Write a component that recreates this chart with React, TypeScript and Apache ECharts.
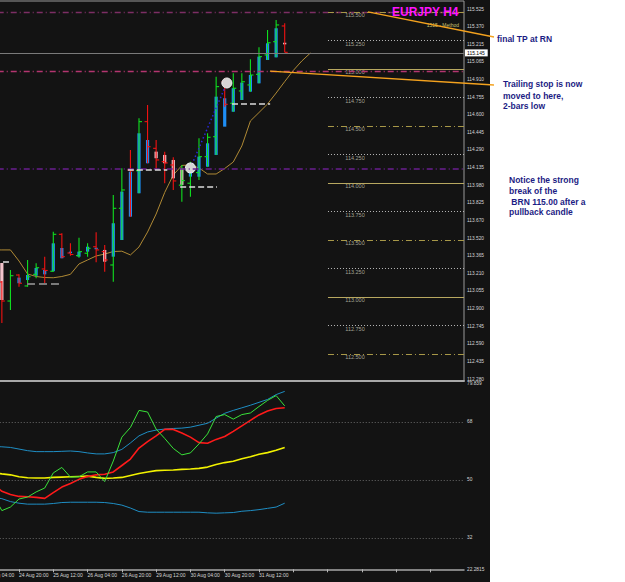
import React, { useEffect, useRef } from 'react';
import * as echarts from 'echarts';

// ---------- data ----------
// bar times, index = k + 1 (k = bar index used on the x value axis; k = -1 is the first tick only)
const barTimes = [
  '24 Aug 04:00', '24 Aug 08:00', '24 Aug 12:00', '24 Aug 16:00', '24 Aug 20:00',
  '25 Aug 00:00', '25 Aug 04:00', '25 Aug 08:00', '25 Aug 12:00', '25 Aug 16:00', '25 Aug 20:00',
  '26 Aug 00:00', '26 Aug 04:00', '26 Aug 08:00', '26 Aug 12:00', '26 Aug 16:00', '26 Aug 20:00',
  '29 Aug 00:00', '29 Aug 04:00', '29 Aug 08:00', '29 Aug 12:00', '29 Aug 16:00', '29 Aug 20:00',
  '30 Aug 00:00', '30 Aug 04:00', '30 Aug 08:00', '30 Aug 12:00', '30 Aug 16:00', '30 Aug 20:00',
  '31 Aug 00:00', '31 Aug 04:00', '31 Aug 08:00', '31 Aug 12:00', '31 Aug 16:00', '31 Aug 20:00',
  '01 Sep 00:00',
];

const barOpen = [113.300, 113.131, 112.964, 113.192, 113.096, 113.198, 113.245, 113.225, 113.549, 113.385, 113.362, 113.383, 113.440, 113.397, 113.280, 113.777, 114.113, 114.107, 114.537, 114.303, 114.186, 114.157, 113.980, 113.997, 114.090, 114.230, 114.405, 114.887, 114.698, 114.806, 114.859, 114.952, 115.122, 115.238, 115.376];
const barHigh = [113.340, 113.140, 113.236, 113.198, 113.324, 113.295, 113.353, 113.572, 113.558, 113.470, 113.519, 113.470, 113.568, 113.455, 113.894, 114.128, 114.289, 114.567, 114.683, 114.376, 114.274, 114.225, 114.157, 114.186, 114.391, 114.435, 114.931, 114.917, 114.961, 114.961, 115.084, 115.189, 115.341, 115.429, 115.400];
const barLow = [113.100, 112.771, 112.885, 113.090, 113.090, 113.163, 113.105, 113.221, 113.339, 113.362, 113.344, 113.353, 113.305, 113.221, 113.134, 113.499, 113.704, 113.909, 114.172, 114.113, 113.997, 113.938, 113.835, 113.879, 114.025, 114.142, 114.245, 114.668, 114.624, 114.727, 114.800, 114.873, 115.078, 115.101, 115.145];
const barClose = [113.131, 112.964, 113.186, 113.120, 113.177, 113.256, 113.232, 113.549, 113.353, 113.372, 113.397, 113.426, 113.412, 113.324, 113.777, 113.938, 114.107, 114.537, 114.317, 114.201, 114.175, 114.017, 114.020, 114.163, 114.230, 114.400, 114.844, 114.689, 114.830, 114.887, 114.946, 115.107, 115.229, 115.385, 115.145];
const haOpen = [113.320, 113.297, null, 113.120, 113.148, 113.186, 113.198, 113.225, 113.339, 113.384, 113.353, 113.397, 113.418, 113.412, 113.353, 113.499, 113.704, 113.909, 114.172, 114.274, 114.245, 114.201, 114.128, 114.055, 114.054, 114.142, 114.245, 114.493, 114.624, 114.727, 114.800, 114.873, 115.078, 115.101, 115.229];
const haClose = [113.250, 112.973, null, 113.169, 113.192, 113.254, 113.236, 113.470, 113.429, 113.397, 113.397, 113.440, 113.431, 113.309, 113.646, 113.923, 114.098, 114.435, 114.376, 114.216, 114.172, 114.040, 113.982, 114.160, 114.230, 114.347, 114.756, 114.742, 114.830, 114.879, 114.946, 115.107, 115.224, 115.356, 115.215];

// moving average, shifted 3 bars forward (k = 0..37)
const maValues = [113.412, 113.412, 113.412, 113.315, 113.201, 113.179, 113.170, 113.168, 113.179, 113.198, 113.289, 113.324, 113.359, 113.376, 113.398, 113.401, 113.368, 113.438, 113.569, 113.727, 113.916, 114.069, 114.153, 114.157, 114.131, 114.078, 114.078, 114.126, 114.183, 114.324, 114.543, 114.617, 114.692, 114.788, 114.888, 114.986, 115.069, 115.139];

// indicator (TDI) k = 0..34
const rsiGreen = [45.3, 40.5, 41.6, 44.1, 44.7, 46.3, 47.5, 52.2, 53.9, 50.9, 51.0, 52.5, 52.5, 49.5, 55.9, 63.3, 66.3, 71.6, 71.1, 65.8, 62.9, 59.8, 57.8, 58.4, 61.2, 64.3, 69.7, 70.3, 68.9, 70.3, 70.8, 72.8, 74.7, 76.2, 73.0];
const signalRed = [48.5, 46.5, 45.5, 44.9, 44.8, 44.6, 44.3, 46.1, 47.8, 48.9, 50.2, 51.1, 51.6, 51.8, 52.5, 54.5, 56.5, 59.9, 61.9, 63.7, 65.7, 65.7, 64.6, 63.3, 61.6, 61.4, 62.6, 63.5, 65.1, 66.8, 68.5, 70.2, 71.4, 72.2, 72.4];
const baseYellow = [52.3, 51.9, 51.6, 51.0, 50.7, 50.6, 50.6, 50.8, 50.9, 51.0, 51.1, 51.2, 50.8, 50.5, 50.6, 50.8, 51.4, 52.0, 52.5, 52.9, 53.0, 53.1, 53.3, 53.4, 53.6, 54.0, 54.8, 55.4, 55.8, 56.6, 57.2, 58.0, 58.5, 59.2, 60.1];
const bandUpper = [60.4, 60.3, 60.1, 59.6, 59.1, 58.8, 58.8, 58.8, 58.9, 59.0, 58.8, 58.4, 58.1, 58.1, 58.5, 59.5, 61.5, 63.7, 64.9, 65.5, 65.8, 66.0, 66.1, 66.4, 67.0, 67.6, 69.2, 70.7, 71.6, 72.4, 73.2, 74.1, 75.0, 76.5, 77.5];
const bandLower = [44.7, 44.2, 43.3, 42.8, 42.5, 42.5, 42.5, 42.7, 43.0, 43.1, 43.1, 43.1, 43.1, 43.0, 42.7, 42.2, 41.3, 40.2, 40.0, 40.0, 40.0, 40.0, 40.0, 40.0, 40.0, 39.8, 39.7, 39.8, 39.9, 40.3, 40.5, 40.8, 41.2, 41.6, 42.8];

// axis tick labels
const priceAxisLabels = ['112.280', '112.435', '112.590', '112.745', '112.900', '113.055', '113.210', '113.365', '113.520', '113.670', '113.825', '113.980', '114.135', '114.290', '114.445', '114.600', '114.755', '114.910', '115.065', '115.215', '115.370', '115.525'];
const indicatorLevels = [68, 50, 32];
const indicatorMin = 22.2815;
const indicatorMax = 79.839;

// round-number levels drawn on the right
const roundLevels = [115.5, 115.25, 115.0, 114.75, 114.5, 114.25, 114.0, 113.75, 113.5, 113.25, 113.0, 112.75, 112.5];
const roundLevelLabels = ['115.500', '115.250', '115.000', '114.750', '114.500', '114.250', '114.000', '113.750', '113.500', '113.250', '113.000', '112.750', '112.500'];

// other horizontal levels
const bidPrice = 115.145;
const tpLevel = 115.5;
const stopLevel = 114.98;
const entryLevel = 114.122;

// "2-bar low" dashed segments: [startK, endK, price]
const stopSegments = [
  [1.13, 2.18, 113.306],
  [15.7, 20.3, 114.111],
  [21.8, 26.1, 113.962],
  [27.85, 32.3, 114.698],
];
const oldStopSegments = [[3.93, 8.13, 113.116]];

// trade markers [k, price]
const tradeMarks = [[23, 114.131], [27.25, 114.876]];

// ---------- layout constants ----------
const FONT = 'Liberation Sans';
const X_MIN = -1;
const X_MAX = 54.92;
const GRID_LEFT = -15.28;
const GRID_W = 479.28;

export default function App() {
  const ref = useRef<HTMLDivElement>(null);

  useEffect(() => {
    const chart = echarts.init(ref.current!, undefined, { renderer: 'svg' });

    const candleData = barOpen.map((o, k) => [k, o, barHigh[k], barLow[k], barClose[k], haOpen[k], haClose[k]]);

    const renderCandle = (params: any, api: any) => {
      const k = api.value(0);
      const o = api.value(1), h = api.value(2), l = api.value(3), c = api.value(4);
      const hao = api.value(5), hac = api.value(6);
      const pH = api.coord([k, h]);
      const pL = api.coord([k, l]);
      const pO = api.coord([k, o]);
      const pC = api.coord([k, c]);
      const x = pH[0];
      const up = c >= o;
      const wick = up ? '#10e020' : '#f21212';
      const children: any[] = [];
      if (isFinite(hao) && isFinite(hac)) {
        const a = api.coord([k, hao]);
        const b = api.coord([k, hac]);
        const top = Math.min(a[1], b[1]);
        const bot = Math.max(a[1], b[1]);
        children.push({
          type: 'rect',
          shape: { x: x - 1.6, y: top, width: 3.2, height: Math.max(1.5, bot - top) },
          style: { fill: hac >= hao ? '#1e8ef5' : '#f4c4cc' },
        });
      }
      children.push({ type: 'line', shape: { x1: x, y1: pH[1], x2: x, y2: pL[1] }, style: { stroke: wick, lineWidth: 1.1 } });
      children.push({ type: 'line', shape: { x1: x - 3, y1: pO[1], x2: x, y2: pO[1] }, style: { stroke: wick, lineWidth: 1.1 } });
      children.push({ type: 'line', shape: { x1: x, y1: pC[1], x2: x + 3, y2: pC[1] }, style: { stroke: wick, lineWidth: 1.1 } });
      return { type: 'group', children };
    };

    const dashDot = [6, 3, 1, 3];
    const levelStyle = (lv: number) => {
      const q = Math.round(lv * 4);
      if (q % 2 !== 0) return { color: '#b8b8b8', type: [1, 2], width: 1 };
      if (q % 4 !== 0) return { color: '#a89848', type: dashDot, width: 1 };
      return { color: '#b8a860', type: 'solid', width: 1 };
    };

    const mainMarkLines: any[] = [
      { yAxis: tpLevel, lineStyle: { color: '#7c2e64', type: dashDot, width: 1.3 } },
      { yAxis: stopLevel, lineStyle: { color: '#b3356f', type: dashDot, width: 1.3 } },
      { yAxis: entryLevel, lineStyle: { color: '#6a1f90', type: dashDot, width: 1.5 } },
      {
        yAxis: bidPrice,
        lineStyle: { color: '#7a7a7a', type: 'solid', width: 1 },
        label: {
          show: true, position: 'end', distance: 1, formatter: '115.145',
          backgroundColor: '#ffffff', color: '#000000', fontSize: 5, fontFamily: FONT, padding: [1, 3, 1, 2],
        },
      },
      ...roundLevels.map((lv) => [
        { coord: [39.05, lv], lineStyle: levelStyle(lv) },
        { coord: [X_MAX, lv] },
      ]),
      ...stopSegments.map((s) => [
        { coord: [s[0], s[2]], lineStyle: { color: '#dcdcdc', type: [6, 3], width: 1.5 } },
        { coord: [s[1], s[2]] },
      ]),
      ...oldStopSegments.map((s) => [
        { coord: [s[0], s[2]], lineStyle: { color: '#7a7a7a', type: [8, 4], width: 2 } },
        { coord: [s[1], s[2]] },
      ]),
    ];

    const hidden = { color: 'rgba(0,0,0,0)', width: 0 };
    const indMarkLines: any[] = [
      ...indicatorLevels.map((v) => ({ yAxis: v, label: { formatter: String(v) } })),
      { yAxis: indicatorMax - 0.02, lineStyle: hidden, label: { formatter: String(indicatorMax) } },
      { yAxis: indicatorMin + 0.02, lineStyle: hidden, label: { formatter: String(indicatorMin) } },
    ];

    const kData = (arr: number[]) => arr.map((v, k) => [k, v]);

    const option: any = {
      animation: false,
      backgroundColor: '#131313',
      title: [
        {
          text: 'EURJPY H4', left: 392, top: 6, padding: 0,
          textStyle: { color: '#ff14ff', fontSize: 12, fontWeight: 'bold', fontFamily: FONT },
        },
        {
          text: '1515 - Method', right: 166, top: 22, padding: 0,
          textStyle: { color: '#c8c070', fontSize: 5, fontWeight: 'normal', fontFamily: FONT },
        },
      ],
      grid: [
        { left: GRID_LEFT, top: 1, width: GRID_W, height: 380, show: true, borderColor: '#9a9a9a', borderWidth: 1, backgroundColor: 'transparent', containLabel: false, outerBoundsMode: 'none' },
        { left: GRID_LEFT, top: 383.85, width: GRID_W, height: 185.45, show: false, containLabel: false, outerBoundsMode: 'none' },
        { left: GRID_LEFT, top: 9, width: GRID_W, height: 370, show: false, containLabel: false, outerBoundsMode: 'none' },
      ],
      xAxis: [
        {
          gridIndex: 0, type: 'value', min: X_MIN, max: X_MAX,
          axisLine: { show: true, onZero: false, lineStyle: { color: '#a8a8a8', width: 2 } },
          axisTick: { show: false }, axisLabel: { show: false }, splitLine: { show: false },
        },
        {
          gridIndex: 1, type: 'value', min: X_MIN, max: X_MAX, interval: 4,
          axisLine: { show: true, onZero: false, lineStyle: { color: '#a8a8a8', width: 1.5 } },
          axisTick: { show: true, length: 3, lineStyle: { color: '#b8b8b8' } },
          axisLabel: {
            show: true, color: '#d6d6d6', fontSize: 5, fontFamily: FONT, align: 'left', margin: 3,
            showMinLabel: true, showMaxLabel: false,
            formatter: (v: number) => {
              const r = Math.round(v);
              if (Math.abs(v - r) > 1e-6) return '';
              const idx = r + 1;
              return idx >= 0 && idx < barTimes.length ? barTimes[idx] : '';
            },
          },
          splitLine: { show: false },
        },
        { gridIndex: 2, type: 'value', min: 0, max: 1, show: false },
      ],
      yAxis: [
        {
          gridIndex: 0, type: 'value', position: 'right', min: 112.2626, max: 115.595,
          axisLine: { show: true, lineStyle: { color: '#9a9a9a' } },
          axisTick: { show: false }, axisLabel: { show: false }, splitLine: { show: false },
        },
        {
          gridIndex: 1, type: 'value', position: 'right', min: indicatorMin, max: indicatorMax,
          axisLine: { show: true, lineStyle: { color: '#a0a0a0', width: 1.5 } },
          axisTick: { show: false }, axisLabel: { show: false }, splitLine: { show: false },
        },
        {
          gridIndex: 2, type: 'value', position: 'right', min: 0, max: 21, interval: 1,
          axisLine: { show: false },
          axisTick: { show: true, length: 2, lineStyle: { color: '#bdbdbd' } },
          axisLabel: {
            show: true, color: '#d6d6d6', fontSize: 4.8, fontFamily: FONT, margin: 3,
            formatter: (v: number) => priceAxisLabels[Math.round(v)] ?? '',
          },
          splitLine: { show: false },
        },
      ],
      series: [
        {
          type: 'custom', name: 'bars', xAxisIndex: 0, yAxisIndex: 0, clip: true,
          renderItem: renderCandle, data: candleData,
          encode: { x: 0, y: [1, 2, 3, 4] }, z: 3,
        },
        {
          type: 'line', name: 'ma', xAxisIndex: 0, yAxisIndex: 0, data: kData(maValues),
          showSymbol: false, symbol: 'none', lineStyle: { color: '#b08a35', width: 1 }, z: 2,
          markLine: {
            silent: true, symbol: ['none', 'none'], label: { show: false },
            data: mainMarkLines,
          },
        },
        {
          type: 'line', name: 'trade', xAxisIndex: 0, yAxisIndex: 0, data: tradeMarks,
          symbol: 'circle', symbolSize: 10, showSymbol: true,
          itemStyle: { color: '#d4d4d4', borderColor: '#f2f2f2', borderWidth: 1 },
          lineStyle: { color: '#2a2ad8', type: [1.5, 2.5], width: 1.5 }, z: 4,
        },
        {
          type: 'scatter', name: 'levelLabels', xAxisIndex: 0, yAxisIndex: 0,
          data: roundLevels.map((lv) => [42.2, lv]), symbolSize: 0,
          label: {
            show: true, position: 'inside', offset: [0, 3.5], color: '#c8c8b4', fontSize: 5.5, fontFamily: FONT,
            formatter: (p: any) => roundLevelLabels[p.dataIndex],
          },
          z: 4,
        },
        {
          type: 'line', name: 'upper', xAxisIndex: 1, yAxisIndex: 1, data: kData(bandUpper),
          showSymbol: false, symbol: 'none', lineStyle: { color: '#1f8ec4', width: 1 },
          markLine: {
            silent: true, symbol: ['none', 'none'],
            lineStyle: { color: '#6a6a6a', type: [1, 2], width: 1 },
            label: { show: true, position: 'end', distance: 3, color: '#d6d6d6', fontSize: 4.8, fontFamily: FONT },
            data: indMarkLines,
          },
        },
        {
          type: 'line', name: 'lower', xAxisIndex: 1, yAxisIndex: 1, data: kData(bandLower),
          showSymbol: false, symbol: 'none', lineStyle: { color: '#1f8ec4', width: 1 },
        },
        {
          type: 'line', name: 'base', xAxisIndex: 1, yAxisIndex: 1, data: kData(baseYellow),
          showSymbol: false, symbol: 'none', lineStyle: { color: '#f2f200', width: 1.6 },
        },
        {
          type: 'line', name: 'signal', xAxisIndex: 1, yAxisIndex: 1, data: kData(signalRed),
          showSymbol: false, symbol: 'none', lineStyle: { color: '#ff1a1a', width: 1.6 },
        },
        {
          type: 'line', name: 'rsi', xAxisIndex: 1, yAxisIndex: 1, data: kData(rsiGreen),
          showSymbol: false, symbol: 'none', lineStyle: { color: '#3ae23a', width: 1 },
        },
      ],
    };

    chart.setOption(option);

    const pTP = chart.convertToPixel({ seriesIndex: 1 }, [43.72, tpLevel]) as number[];
    const pStop = chart.convertToPixel({ seriesIndex: 1 }, [32.28, stopLevel]) as number[];
    const noteFont = `bold 8.5px "${FONT}"`;
    const noteColor = '#1c1c84';
    const note = (text: string, x: number, y: number) => ({
      type: 'text', x, y, z: 100, silent: true,
      style: { text, fill: noteColor, font: noteFont, verticalAlign: 'middle', align: 'left' },
    });

    chart.setOption({
      graphic: [
        { type: 'rect', shape: { x: 490, y: 0, width: 135, height: 582 }, style: { fill: '#ffffff' }, z: 0, silent: true },
        { type: 'line', shape: { x1: pTP[0], y1: pTP[1], x2: 494, y2: 37 }, style: { stroke: '#f4a21e', lineWidth: 1.3 }, z: 100, silent: true },
        { type: 'line', shape: { x1: pStop[0], y1: pStop[1], x2: 494, y2: 85 }, style: { stroke: '#f4a21e', lineWidth: 1.3 }, z: 100, silent: true },
        note('final TP at RN', 497, 38.5),
        note('Trailing stop is now', 503, 84),
        note('moved to here,', 503, 95.5),
        note('2-bars low', 503, 106),
        note('Notice the strong', 509, 180),
        note('break of the', 509, 191),
        note(' BRN 115.00 after a', 509, 201.5),
        note('pullback candle', 509, 212),
      ],
    });

    return () => chart.dispose();
  }, []);

  return <div ref={ref} style={{ position: 'fixed', left: 0, top: 0, width: 625, height: 582 }} />;
}
